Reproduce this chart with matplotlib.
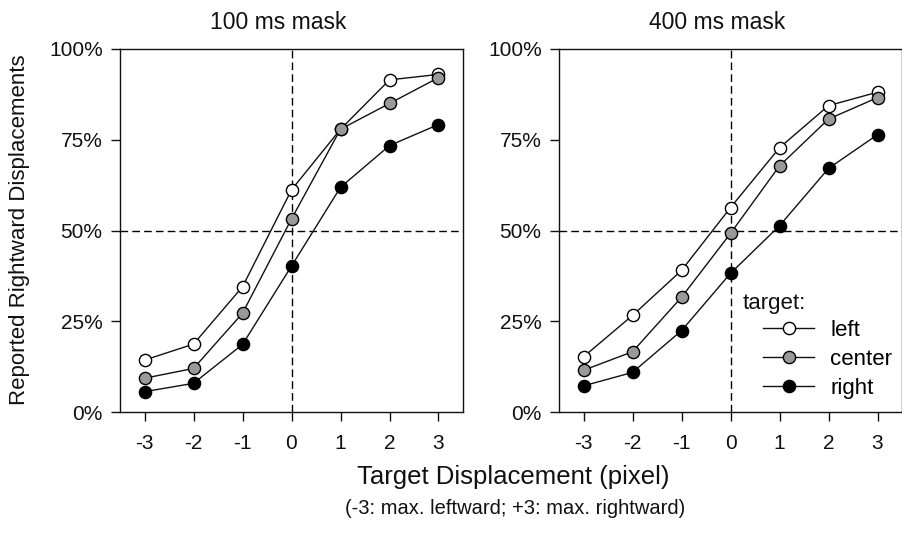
import matplotlib
matplotlib.use("Agg")
import matplotlib.pyplot as plt

plt.rcParams['font.family'] = ['Liberation Sans', 'DejaVu Sans']

# data (proportion of "rightward" reports, in %)
displacement = [-3, -2, -1, 0, 1, 2, 3]
xtick_labels = ['-3', '-2', '-1', '0', '1', '2', '3']
ytick_vals = [0, 25, 50, 75, 100]
ytick_labels = ['0%', '25%', '50%', '75%', '100%']

mask100_left = [14.3, 18.7, 34.5, 61.2, 77.9, 91.5, 93.0]
mask100_center = [9.3, 12.0, 27.2, 53.2, 77.9, 85.0, 92.1]
mask100_right = [5.6, 7.9, 18.6, 40.2, 61.9, 73.4, 79.2]

mask400_left = [15.2, 26.6, 39.0, 56.3, 72.8, 84.4, 88.1]
mask400_center = [11.5, 16.6, 31.6, 49.2, 67.8, 80.7, 86.6]
mask400_right = [7.2, 10.9, 22.4, 38.2, 51.3, 67.1, 76.4]

target_names = ['left', 'center', 'right']
target_colors = ['white', '#999999', 'black']

panels = [
    ('100 ms mask', [mask100_left, mask100_center, mask100_right]),
    ('400 ms mask', [mask400_left, mask400_center, mask400_right]),
]

W, H = 903, 533
fig = plt.figure(figsize=(W / 100, H / 100), dpi=100)

# axes boxes in pixels: left, top, width, height
boxes = [(120, 49, 343, 363), (559, 49, 343, 363)]

axes = []
for (title, series), (px, py, pw, ph) in zip(panels, boxes):
    ax = fig.add_axes([px / W, 1 - (py + ph) / H, pw / W, ph / H])
    ax.axvline(0, color='black', lw=1.0, dashes=(5.5, 3), zorder=1)
    ax.axhline(50, color='black', lw=1.0, dashes=(5.5, 3), zorder=1)
    for name, vals, col in zip(target_names, series, target_colors):
        ax.plot(displacement, vals, '-o', color='#111111', lw=1.0,
                marker='o', markersize=8.8, markerfacecolor=col,
                markeredgecolor='black', markeredgewidth=1.0,
                label=name, zorder=3)
    ax.set_xlim(-3.5, 3.5)
    ax.set_ylim(0, 100)
    ax.set_xticks(displacement)
    ax.set_xticklabels(xtick_labels)
    ax.set_yticks(ytick_vals)
    ax.set_yticklabels(ytick_labels)
    ax.tick_params(direction='out', length=6.5, width=1.0, labelsize=15,
                   pad=6, colors='#111111')
    ax.tick_params(axis='x', pad=9)
    for s in ax.spines.values():
        s.set_linewidth(1.0)
        s.set_color('#111111')
    fig.text((px + pw / 2 - 13) / W, 1 - 22 / H, title, fontsize=16.5,
             ha='center', va='center', color='#111111')
    axes.append(ax)

# legend in right panel
ax = axes[1]
ax.text(0.534, 0.300, 'target:', transform=ax.transAxes, fontsize=16,
        ha='left', va='center', color='#111111')
ax.legend(loc='upper left', bbox_to_anchor=(0.595, 0.253), frameon=False,
          fontsize=16, borderpad=0, borderaxespad=0, handlelength=2.3,
          handletextpad=0.72, labelspacing=0.36)

fig.text(513 / W, 1 - 477 / H, 'Target Displacement (pixel)', fontsize=18.5,
         ha='center', va='center', color='#111111')
fig.text(515 / W, 1 - 508 / H, '(-3: max. leftward; +3: max. rightward)',
         fontsize=14.5, ha='center', va='center', color='#111111')
fig.text(20 / W, 1 - 230 / H, 'Reported Rightward Displacements', fontsize=16,
         rotation=90, ha='center', va='center', color='#111111')

fig.savefig('out.png', dpi=100)
